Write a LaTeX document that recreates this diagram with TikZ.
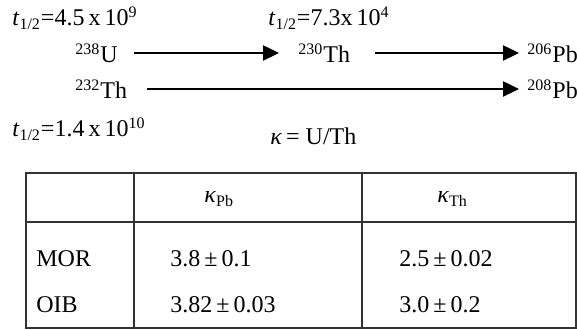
\documentclass[tikz,border=0pt]{standalone}
\usepackage{fontspec}
\setmainfont{Liberation Serif}
\usetikzlibrary{arrows.meta}
\begin{document}
\begin{tikzpicture}[x=0.5pt,y=-0.5pt,
  txt/.style={inner sep=0pt, anchor=base west, font=\fontsize{12}{14}\selectfont},
  arr/.style={line width=1.2pt, -{Triangle[length=8pt,width=7.5pt]}},
  grid/.style={line width=0.6pt, draw=black!80}]
\useasboundingbox (0,0) rectangle (577,330);
% decay scheme
\node[txt] (hl1) at (12,26) {\textit{t}\textsubscript{1/2}=4.5\,x\,10\textsuperscript{9}};
\node[txt] (hl2) at (268,26) {\textit{t}\textsubscript{1/2}=7.3x\,10\textsuperscript{4}};
\node[txt] (hl3) at (12,137) {\textit{t}\textsubscript{1/2}=1.4\,x\,10\textsuperscript{10}};
\node[txt] (kap) at (270,145) {\textit{κ}\,= U/Th};
\node[txt] (U238) at (75,63) {\textsuperscript{238}U};
\node[txt] (Th230) at (298,63) {\textsuperscript{230}Th};
\node[txt] (Pb206) at (527,63) {\textsuperscript{206}Pb};
\node[txt] (Th232) at (75,99) {\textsuperscript{232}Th};
\node[txt] (Pb208) at (527,99) {\textsuperscript{208}Pb};
\coordinate (a1s) at (134,53);
\coordinate (a1e) at (279,53);
\coordinate (a2s) at (375,53);
\coordinate (a2e) at (519,53);
\coordinate (a3s) at (147,89);
\coordinate (a3e) at (519,89);
\draw[arr] (a1s) -- (a1e);
\draw[arr] (a2s) -- (a2e);
\draw[arr] (a3s) -- (a3e);
% table
\draw[grid] (26,173) rectangle (576,328);
\draw[grid] (26,222) -- (576,222);
\draw[grid] (134,173) -- (134,328);
\draw[grid] (362,173) -- (362,328);
\node[txt] (hPb) at (204,203) {\textit{κ}\textsubscript{Pb}};
\node[txt] (hTh) at (437,203) {\textit{κ}\textsubscript{Th}};
\node[txt] (mor) at (36,267) {MOR};
\node[txt] (oib) at (36,313) {OIB};
\node[txt] (m1) at (170,267) {3.8\,±\,0.1};
\node[txt] (m2) at (399,267) {2.5\,±\,0.02};
\node[txt] (o1) at (170,313) {3.82\,±\,0.03};
\node[txt] (o2) at (399,313) {3.0\,±\,0.2};
\end{tikzpicture}
\end{document}
